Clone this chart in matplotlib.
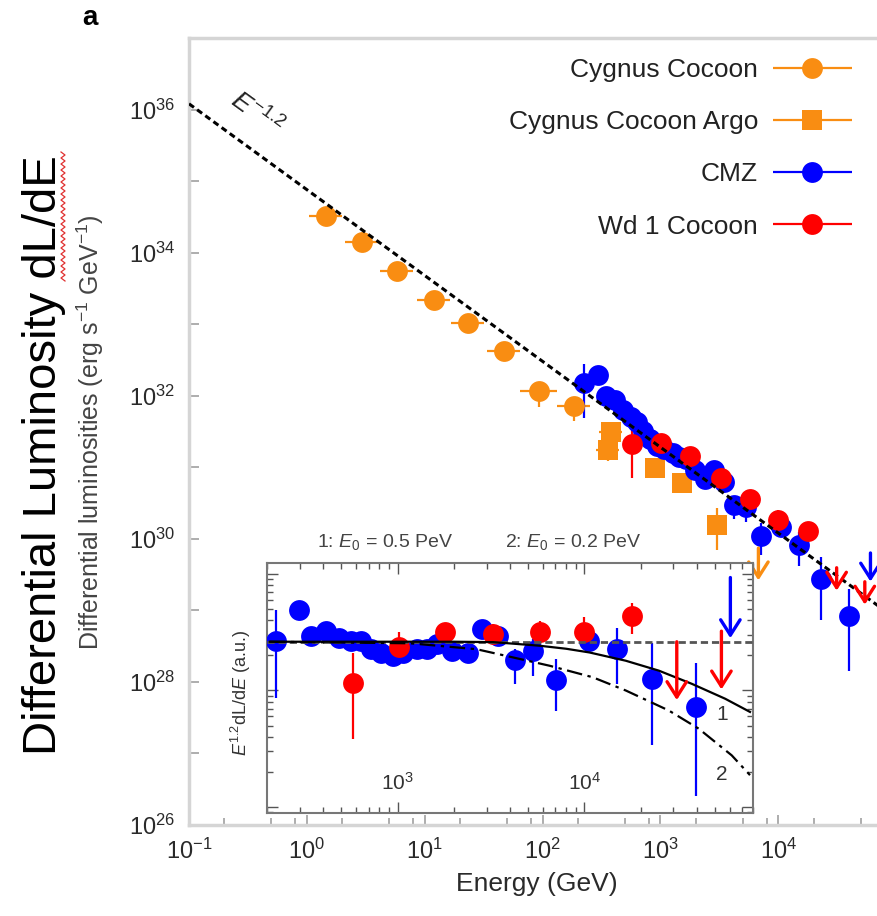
import numpy as np
import matplotlib
matplotlib.use("Agg")
import matplotlib.pyplot as plt
from matplotlib import ticker
from matplotlib.container import ErrorbarContainer
from matplotlib.legend_handler import HandlerErrorbar
from matplotlib.lines import Line2D

plt.rcParams['font.family'] = ['Liberation Sans', 'DejaVu Sans']
plt.rcParams['mathtext.fontset'] = 'custom'
plt.rcParams['mathtext.rm'] = 'Liberation Sans'
plt.rcParams['mathtext.it'] = 'Liberation Sans:italic'
plt.rcParams['mathtext.bf'] = 'Liberation Sans:bold'

ORANGE = '#f98d12'
BLUE = '#0000ff'
RED = '#ff0000'

#==============================================================================
# data: energy in GeV, luminosity in erg s^-1 GeV^-1, errors in dex

# Cygnus Cocoon (circles)
cyg_E = [1.45, 2.92, 5.79, 11.9, 23.1, 46.7, 92.5, 183]
cyg_L = [3.2e34, 1.39e34, 5.46e33, 2.15e33, 1.03e33, 4.17e32, 1.15e32, 7.1e31]
cyg_dE = [0.14, 0.14, 0.14, 0.14, 0.14, 0.14, 0.16, 0.14]
cyg_lo = [0.1, 0.1, 0.1, 0.1, 0.1, 0.1, 0.22, 0.2]
cyg_hi = [0.06, 0.06, 0.06, 0.06, 0.06, 0.06, 0.1, 0.1]

# Cygnus Cocoon Argo (squares)
argo_E = [377, 356, 908, 1535, 3041]
argo_L = [3.08e31, 1.73e31, 9.68e30, 5.98e30, 1.55e30]
argo_dE = [0.1, 0.1, 0.08, 0.08, 0.08]
argo_lo = [0.1, 0.15, 0.12, 0.05, 0.35]
argo_hi = [0.1, 0.1, 0.05, 0.05, 0.24]
argo_ul_E = [6780]
argo_ul_L = [7.4e29]

# CMZ
cmz_E = [224, 297, 344, 414, 485, 562, 635, 718, 813, 940, 1076, 1276, 1445,
         1633, 1963, 2388, 2831, 3443, 4246, 5284, 7096, 10640, 15000, 23010, 39450]
cmz_L = [1.51e32, 1.96e32, 9.91e31, 8.79e31, 6.27e31, 5.01e31, 4.33e31, 3.18e31,
         2.50e31, 2.00e31, 1.79e31, 1.60e31, 1.37e31, 1.30e31, 9.08e30, 6.86e30,
         9.08e30, 6.25e30, 2.99e30, 2.77e30, 1.09e30, 1.47e30, 8.30e29, 2.73e29, 8.22e28]
cmz_lo = [0.49, 0.05, 0.05, 0.05, 0.05, 0.05, 0.05, 0.05, 0.05, 0.05, 0.05, 0.05, 0.05,
          0.05, 0.05, 0.05, 0.05, 0.05, 0.2, 0.21, 0.26, 0.08, 0.3, 0.57, 0.76]
cmz_hi = [0.26, 0.05, 0.05, 0.05, 0.05, 0.05, 0.05, 0.05, 0.05, 0.05, 0.05, 0.05, 0.05,
          0.05, 0.05, 0.05, 0.05, 0.05, 0.1, 0.1, 0.185, 0.08, 0.18, 0.31, 0.38]
cmz_ul_E = [60530]
cmz_ul_L = [6.34e29]

# Wd 1 Cocoon
wd1_E = [577, 1012, 1799, 3243, 5768, 10000, 17990]
wd1_L = [2.12e31, 2.16e31, 1.46e31, 7.03e30, 3.61e30, 1.86e30, 1.27e30]
wd1_lo = [0.48, 0.15, 0.08, 0.08, 0.1, 0.1, 0.15]
wd1_hi = [0.256, 0.13, 0.08, 0.08, 0.1, 0.13, 0.11]
wd1_ul_E = [31260, 54200]
wd1_ul_L = [3.94e29, 2.51e29]

# E^-1.2 reference line (L = PL_NORM * E^-1.2)
PL_NORM = 7.59e34
PL_INDEX = -1.2
pl_E = [0.1, 8.2e4]

# inset: E^1.2 dL/dE in arbitrary units
INSET_NORM = 3.73e34
INSET_REF = 2.62
cut1_E = [207, 2000, 3250, 5770, 8000, 10640, 16670, 25060, 37670, 56750, 77090]
cut1_y = [2.62, 2.62, 2.60, 2.42, 2.28, 2.12, 1.80, 1.48, 1.14, 0.85, 0.655]
cut2_E = [207, 1170, 2650, 4160, 6520, 11070, 16670, 28310, 40930, 61520, 77090]
cut2_y = [2.62, 2.54, 2.26, 1.92, 1.63, 1.30, 1.00, 0.674, 0.471, 0.278, 0.188]
inset_xticks = [1e3, 1e4]
inset_xticklabels = [r'$10^3$', r'$10^4$']

# main y ticks: labelled even decades, plain marks at odd decades
y_major = [1e26, 1e28, 1e30, 1e32, 1e34, 1e36]
y_minor = [1e27, 1e29, 1e31, 1e33, 1e35, 1e37]

legend_labels = ['Cygnus Cocoon', 'Cygnus Cocoon Argo', 'CMZ', 'Wd 1 Cocoon']
legend_markers = ['o', 's', 'o', 'o']
legend_colors = [ORANGE, ORANGE, BLUE, RED]


#==============================================================================
def dex_err(vals, lo, hi):
	v = np.asarray(vals, float)
	return [v - v / 10 ** np.asarray(lo), v * 10 ** np.asarray(hi) - v]


def ul_arrow(a, E, L, length_dex, color):
	a.annotate('', xy=(E, L / 10 ** length_dex), xytext=(E, L),
	           arrowprops=dict(arrowstyle='->,head_length=0.55,head_width=0.35',
	                           color=color, lw=2.4, mutation_scale=20,
	                           shrinkA=0, shrinkB=0), zorder=6)


W, H = 877, 916
def fx(px):
	return px / W
def fy(py):
	return 1 - py / H


fig = plt.figure(figsize=(W / 100, H / 100), dpi=100)

#==============================================================================
# main panel
ax = fig.add_axes([fx(189), fy(825), (886 - 189) / W, (825 - 38) / H])
ax.set_xscale('log')
ax.set_yscale('log')
ax.set_xlim(0.1, 8.2e4)
ax.set_ylim(1e26, 1e37)

MS = 15
eb = dict(ls='none', ms=MS, mew=0, elinewidth=1.6, capsize=3, capthick=1.6, zorder=3)
ax.errorbar(cyg_E, cyg_L, xerr=dex_err(cyg_E, cyg_dE, cyg_dE),
            yerr=dex_err(cyg_L, cyg_lo, cyg_hi), fmt='o', color=ORANGE, **eb)
ax.errorbar(argo_E, argo_L, xerr=dex_err(argo_E, argo_dE, argo_dE),
            yerr=dex_err(argo_L, argo_lo, argo_hi), fmt='s', color=ORANGE, **eb)
ax.errorbar(cmz_E, cmz_L, yerr=dex_err(cmz_L, cmz_lo, cmz_hi), fmt='o', color=BLUE, **eb)
ax.errorbar(wd1_E, wd1_L, yerr=dex_err(wd1_L, wd1_lo, wd1_hi), fmt='o', color=RED, **eb)
for E, L in zip(argo_ul_E, argo_ul_L):
	ul_arrow(ax, E, L, 0.45, ORANGE)
for E, L in zip(cmz_ul_E, cmz_ul_L):
	ul_arrow(ax, E, L, 0.4, BLUE)
for E, L in zip(wd1_ul_E, wd1_ul_L):
	ul_arrow(ax, E, L, 0.32, RED)

pl_L = [PL_NORM * e ** PL_INDEX for e in pl_E]
ax.plot(pl_E, pl_L, color='black', lw=2.2, dashes=(2, 1.3), zorder=5)
ax.text((256 - 189) / 697, (825 - 114) / 787, r'$E^{-1.2}$', transform=ax.transAxes,
        rotation=-36, ha='center', va='center', fontsize=19, color='#222222')

for s in ax.spines.values():
	s.set_color('#d5d5d5')
	s.set_linewidth(2.5)
ax.spines['right'].set_visible(False)

ax.yaxis.set_major_locator(ticker.FixedLocator(y_major))
ax.yaxis.set_minor_locator(ticker.FixedLocator(y_minor))
ax.yaxis.set_major_formatter(ticker.LogFormatterSciNotation())
ax.yaxis.set_minor_formatter(ticker.NullFormatter())
ax.xaxis.set_major_locator(ticker.LogLocator(base=10, numticks=20))
ax.xaxis.set_minor_locator(ticker.LogLocator(base=10, subs=(2, 5, 8), numticks=20))
ax.xaxis.set_minor_formatter(ticker.NullFormatter())
ax.tick_params(which='both', direction='in', color='#a0a0a0', width=1.2,
               labelsize=17, labelcolor='#2a2a2a', pad=10)
ax.tick_params(which='major', length=7)
ax.tick_params(which='minor', length=5)
ax.tick_params(axis='y', which='minor', length=7)

ax.set_xlabel('Energy (GeV)', fontsize=19, color='#2a2a2a')
ax.xaxis.set_label_coords((537 - 189) / 697, -0.060)

# legend with horizontal error-bar handles
handles = []
for lab, mk, col in zip(legend_labels, legend_markers, legend_colors):
	h = ax.errorbar([np.nan], [np.nan], xerr=[[1.0], [1.0]], fmt=mk, color=col, ms=MS,
	                mew=0, elinewidth=1.6, capsize=3, capthick=1.6, label=lab)
	handles.append(h)
leg = ax.legend(handles=handles, loc='upper right', bbox_to_anchor=(fx(853), fy(58)),
                bbox_transform=fig.transFigure, frameon=False, markerfirst=False,
                fontsize=19, handlelength=3.1, handletextpad=0.5, labelspacing=1.07,
                borderpad=0, borderaxespad=0,
                handler_map={ErrorbarContainer: HandlerErrorbar(xerr_size=1.5)})
for t in leg.get_texts():
	t.set_color('#222222')

#==============================================================================
# inset: E^1.2 dL/dE
axi = fig.add_axes([fx(267), fy(813), (753 - 267) / W, (813 - 563) / H], zorder=5)
axi.set_facecolor('white')
axi.set_xscale('log')
axi.set_yscale('log')
axi.set_xlim(200, 8e4)
axi.set_ylim(0.089, 12.4)

def to_au(E, L):
	return np.asarray(L) * np.asarray(E, float) ** 1.2 / INSET_NORM

cmz_y = to_au(cmz_E, cmz_L)
wd1_y = to_au(wd1_E, wd1_L)
ebi = dict(ls='none', ms=MS, mew=0, elinewidth=1.6, capsize=3, capthick=1.6, zorder=3)
axi.errorbar(cmz_E, cmz_y, yerr=dex_err(cmz_y, cmz_lo, cmz_hi), fmt='o', color=BLUE, **ebi)
axi.errorbar(wd1_E, wd1_y, yerr=dex_err(wd1_y, wd1_lo, wd1_hi), fmt='o', color=RED, **ebi)
for E, y in zip(cmz_ul_E, to_au(cmz_ul_E, cmz_ul_L)):
	ul_arrow(axi, E, y, 0.52, BLUE)
for E, y in zip(wd1_ul_E, to_au(wd1_ul_E, wd1_ul_L)):
	ul_arrow(axi, E, y, 0.5, RED)

axi.axhline(INSET_REF, color='#555555', lw=2, dashes=(2.6, 1.4), zorder=5)
axi.plot(cut1_E, cut1_y, color='black', lw=1.6, zorder=5)
axi.plot(cut2_E, cut2_y, color='black', lw=1.6, dashes=(7, 2.5, 1.5, 2.5), zorder=5)

for s in axi.spines.values():
	s.set_color('#777777')
	s.set_linewidth(1.5)
axi.tick_params(which='both', direction='in', top=True, right=True, color='#555555',
                labelbottom=False, labelleft=False, width=1)
axi.tick_params(which='major', length=8)
axi.tick_params(which='minor', length=4)
for e, lab in zip(inset_xticks, inset_xticklabels):
	axi.text(e, 0.12, lab, transform=axi.get_xaxis_transform(), ha='center',
	         va='center', fontsize=15, color='#333333')
axi.set_ylabel(r'$E^{1.2}$dL/d$E$ (a.u.)', fontsize=13, color='#333333')
axi.yaxis.set_label_coords(-0.028, 0.48)
axi.text(0.936, 0.392, '1', transform=axi.transAxes, ha='center', va='center',
         fontsize=15, color='#333333')
axi.text(0.936, 0.152, '2', transform=axi.transAxes, ha='center', va='center',
         fontsize=15, color='#333333')
axi.text(0.243, 1.084, r'1: $E_0$ = 0.5 PeV', transform=axi.transAxes, ha='center',
         va='center', fontsize=14, color='#444444')
axi.text(0.63, 1.084, r'2: $E_0$ = 0.2 PeV', transform=axi.transAxes, ha='center',
         va='center', fontsize=14, color='#444444')

#==============================================================================
# labels at figure level
fig.text(fx(90), fy(432), r'Differential luminosities (erg s$^{-1}$ GeV$^{-1}$)',
         rotation=90, ha='center', va='center', fontsize=18, color='#444444')

fig.text(fx(44), fy(455), 'Differential Luminosity dL/dE', rotation=90, ha='center',
         va='center', fontsize=34, color='black')

# red spell-check squiggle under "dL/dE"
sq_y = np.arange(152, 284, 3.0)
sq_x = 63 + 2.0 * np.where(np.arange(len(sq_y)) % 2 == 0, -1, 1)
fig.add_artist(Line2D(sq_x / W, 1 - sq_y / H, transform=fig.transFigure,
                      color='#e03030', lw=0.9))

fig.text(fx(90), fy(18), 'a', fontsize=20, fontweight='bold', ha='center', va='center')

fig.savefig('out.png', dpi=100)
